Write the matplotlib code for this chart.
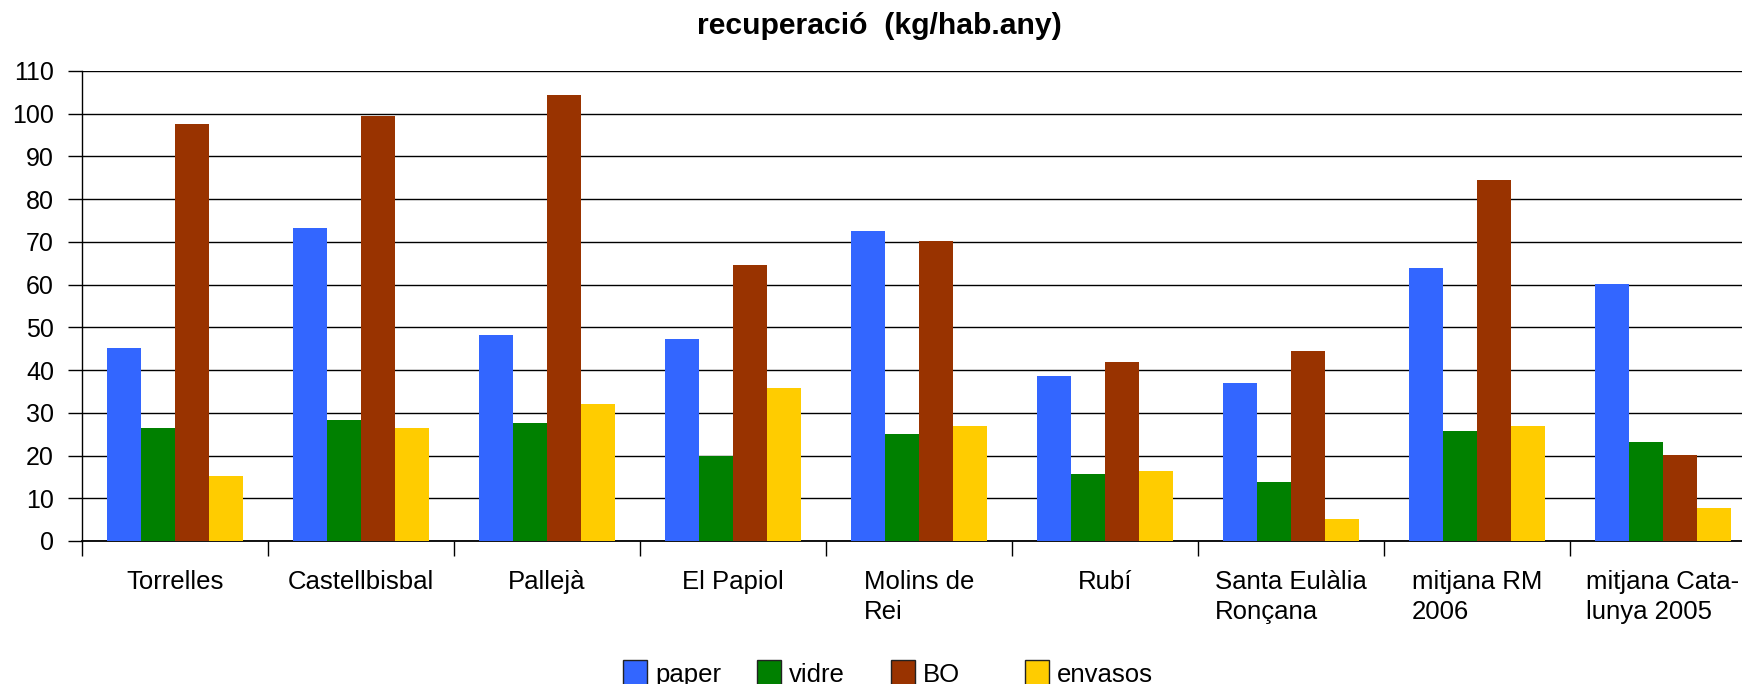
import numpy as np
import matplotlib
matplotlib.use("Agg")
import matplotlib.pyplot as plt
from matplotlib.patches import Rectangle

plt.rcParams['font.family'] = ['Liberation Sans', 'DejaVu Sans']

# dades
llocs = ["Torrelles", "Castellbisbal", "Pallejà", "El Papiol", "Molins de\nRei",
         "Rubí", "Santa Eulàlia\nRonçana", "mitjana RM\n2006", "mitjana Cata-\nlunya 2005"]
series = ["paper", "vidre", "BO", "envasos"]
paper = [45.2, 73.3, 48.2, 47.3, 72.5, 38.7, 37.0, 63.9, 60.1]
vidre = [26.4, 28.3, 27.6, 20.0, 25.0, 15.7, 13.8, 25.7, 23.2]
bo = [97.6, 99.5, 104.4, 64.5, 70.2, 41.9, 44.5, 84.5, 20.1]
envasos = [15.2, 26.4, 32.1, 35.9, 26.8, 16.4, 5.1, 26.9, 7.7]
colors = ["#3366FF", "#008000", "#993300", "#FFCC00"]

W, H = 1742, 684
fig = plt.figure(figsize=(W / 100, H / 100), dpi=100)
ax = fig.add_axes([81.7 / W, 143 / H, 9 * 186 / W, 470 / H])

x = np.arange(len(llocs)) + 0.5
w = 0.183
for j, vals in enumerate([paper, vidre, bo, envasos]):
    ax.bar(x + (j - 1.5) * w, vals, w, color=colors[j], zorder=3, linewidth=0)

ax.set_xlim(0, len(llocs))
ax.set_ylim(0, 110)
ax.set_yticks(np.arange(0, 111, 10))
ax.yaxis.grid(True, color="black", linewidth=1.0, zorder=1)
ax.set_axisbelow(True)

# marques a les fronteres, etiquetes al centre
ax.set_xticks(np.arange(0, len(llocs) + 1))
ax.set_xticklabels([])
ax.set_xticks(x, minor=True)
ax.set_xticklabels(llocs, minor=True, fontsize=18.5, multialignment="left",
                   linespacing=1.3)
ax.tick_params(axis="x", which="major", length=11, width=1, direction="out")
ax.tick_params(axis="x", which="minor", length=0, pad=21)
ax.tick_params(axis="y", length=10, width=1, pad=10, labelsize=18)

for s in ["top", "right"]:
    ax.spines[s].set_visible(False)
ax.spines["left"].set_linewidth(1)
ax.spines["bottom"].set_linewidth(1.3)

fig.text(879 / W, 650 / H, "recuperació  (kg/hab.any)", ha="center", va="baseline",
         fontsize=21.7, fontweight="bold")

# llegenda
for j, nom in enumerate(series):
    x0 = 623 + 134 * j
    fig.add_artist(Rectangle((x0 / W, -2 / H), 24 / W, 26 / H, transform=fig.transFigure,
                             facecolor=colors[j], edgecolor="#222222", linewidth=1))
    fig.text((x0 + 32) / W, 2 / H, nom, ha="left", va="baseline", fontsize=18.5)

fig.savefig("out.png", dpi=100)
